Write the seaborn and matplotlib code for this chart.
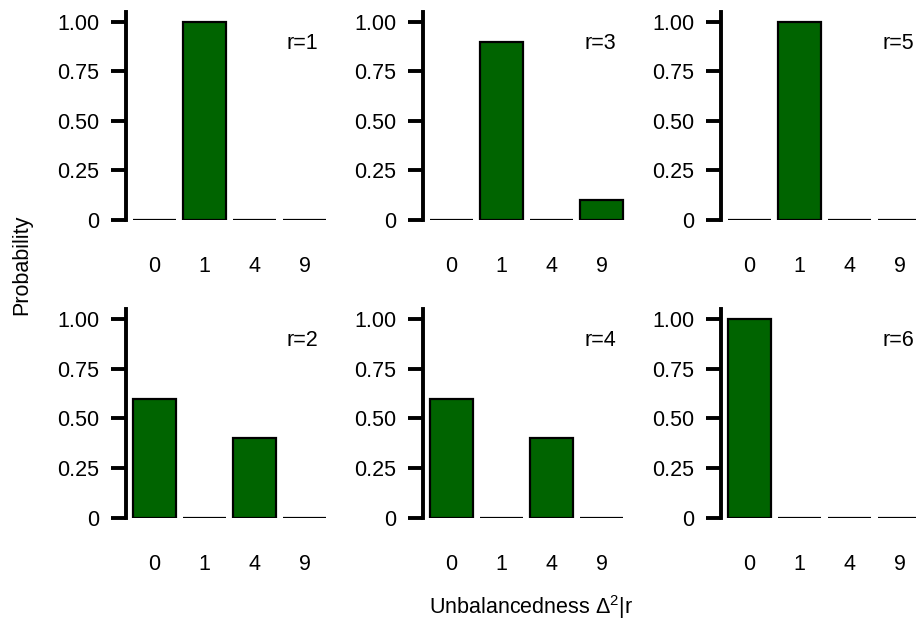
import matplotlib
matplotlib.use("Agg")
import matplotlib.pyplot as plt
import seaborn as sns

# unbalancedness categories and probabilities per r
categories = ["0", "1", "4", "9"]
r_values = [1, 3, 5, 2, 4, 6]
prob_r1 = [0.0, 1.0, 0.0, 0.0]
prob_r3 = [0.0, 0.9, 0.0, 0.1]
prob_r5 = [0.0, 1.0, 0.0, 0.0]
prob_r2 = [0.6, 0.0, 0.4, 0.0]
prob_r4 = [0.6, 0.0, 0.4, 0.0]
prob_r6 = [1.0, 0.0, 0.0, 0.0]
yticks = [0, 0.25, 0.5, 0.75, 1.0]
ytick_labels = ["0", "0.25", "0.50", "0.75", "1.00"]

series = [prob_r1, prob_r3, prob_r5, prob_r2, prob_r4, prob_r6]

sns.set_style("white")
plt.rcParams['font.family'] = ['Liberation Sans', 'DejaVu Sans']
plt.rcParams['mathtext.fontset'] = 'custom'
plt.rcParams['mathtext.rm'] = 'Liberation Sans'
plt.rcParams['mathtext.it'] = 'Liberation Sans:italic'
plt.rcParams['text.color'] = 'black'
plt.rcParams['xtick.color'] = 'black'
plt.rcParams['ytick.color'] = 'black'

FS = 15.5
W, H = 916, 626
fig = plt.figure(figsize=(W / 100, H / 100), dpi=100)

col_left = [126, 423, 721]
row_span = [(12, 220), (309, 518)]
ax_w = 4.07 * 50

for i, (r, vals) in enumerate(zip(r_values, series)):
    row, col = divmod(i, 3)
    top, bot = row_span[row]
    ax = fig.add_axes([col_left[col] / W, 1 - bot / H, ax_w / W, (bot - top) / H])
    sns.barplot(x=categories, y=vals, color="#006400", saturation=1,
                edgecolor="black", linewidth=1.6, width=0.86, ax=ax)
    ax.set_xlim(-0.57, 3.5)
    ax.set_ylim(0, 1.05)
    ax.set_yticks(yticks)
    ax.set_yticklabels(ytick_labels)
    for side in ["top", "right", "bottom"]:
        ax.spines[side].set_visible(False)
    ax.spines["left"].set_linewidth(2.8)
    ax.spines["left"].set_color("black")
    ax.spines["left"].set_bounds(0, 1.05)
    ax.tick_params(axis="y", left=True, length=11, width=2.8, color="black",
                   pad=8, labelsize=FS, labelcolor="black")
    ax.tick_params(axis="x", bottom=False, length=0, pad=26, labelsize=FS, labelcolor="black")
    ax.set_xlabel("")
    ax.set_ylabel("")
    ax.text(2.65, 0.89, f"r={r}", ha="left", va="center", fontsize=FS, color="black")

fig.text(22 / W, 1 - 265 / H, "Probability", rotation=90, ha="center", va="center",
         fontsize=FS, color="black")
fig.text(531 / W, 1 - 607 / H, r"Unbalancedness $\Delta^2$|r", ha="center", va="center",
         fontsize=FS, color="black")

fig.savefig("out.png", dpi=100)
